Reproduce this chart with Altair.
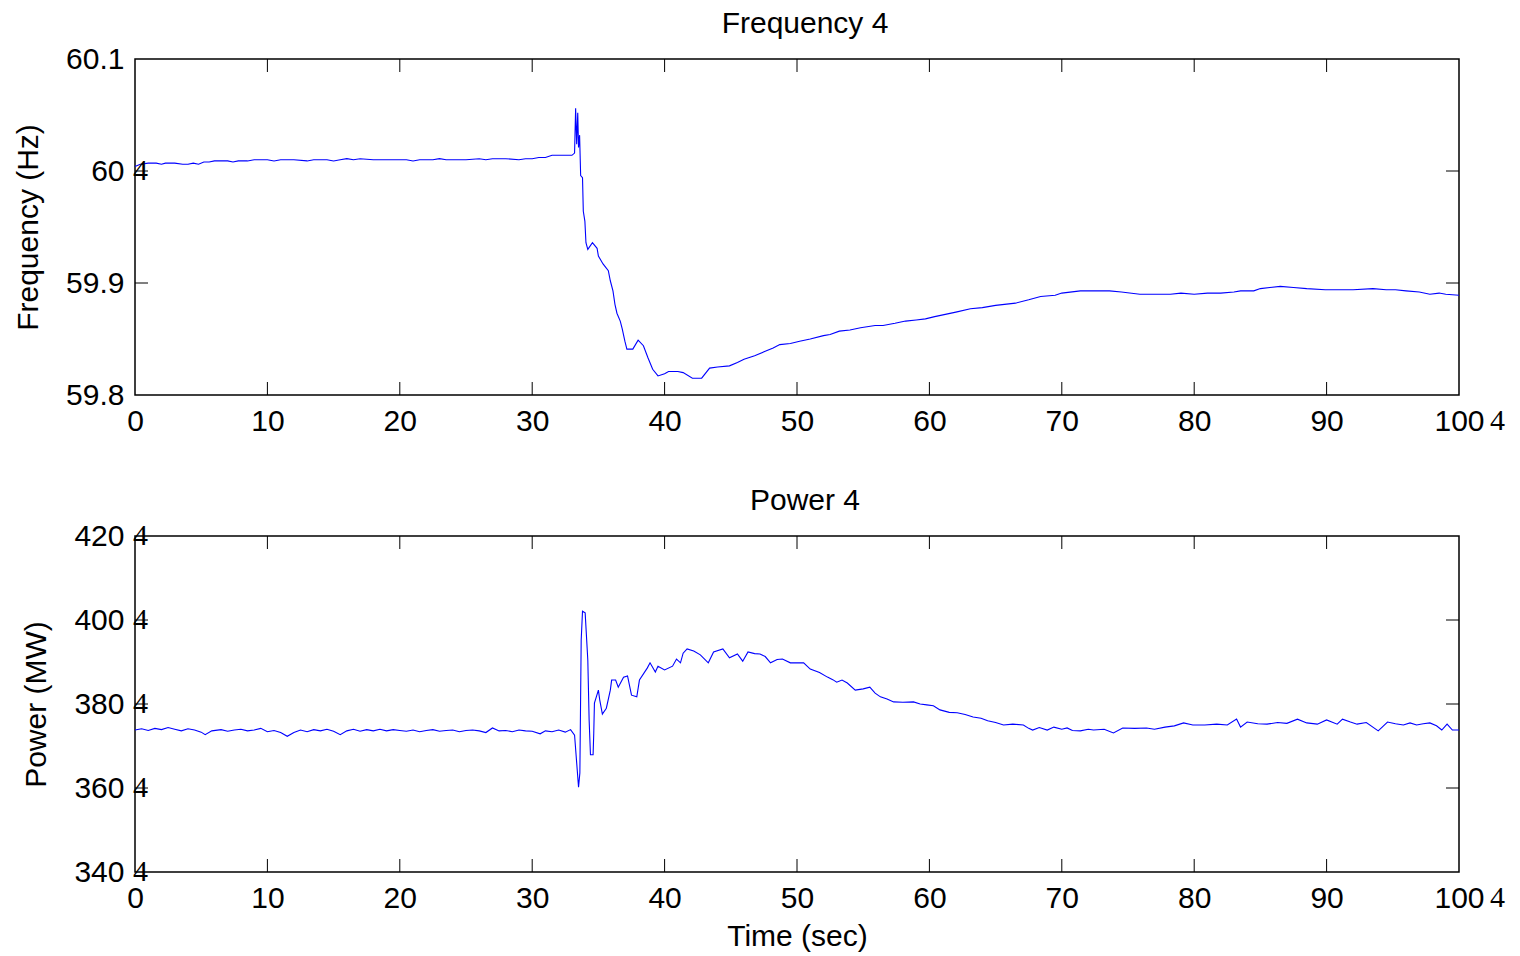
import altair as alt
import pandas as pd

# ---------------- data ----------------
freq_t = [0.0, 0.4, 1.0, 1.6, 2.0, 2.3, 3.0, 3.6, 4.0, 4.4, 4.8, 5.2, 5.6, 6.0, 6.4, 7.0, 7.4, 7.8, 8.5, 9.0,
          10.0, 10.5, 11.0, 12.0, 13.0, 13.5, 14.5, 15.0, 15.5, 16.0, 16.5, 17.0, 18.0, 19.0, 20.0, 20.5, 21.0,
          21.5, 22.5, 23.0, 23.5, 24.5, 25.0, 26.0, 26.5, 27.0, 28.0, 29.0, 29.5, 30.0, 30.5, 31.0, 31.5, 32.5,
          33.0, 33.2, 33.28, 33.36, 33.44, 33.5, 33.58, 33.66, 33.8, 33.86, 33.98, 34.06, 34.2, 34.55, 34.9,
          35.0, 35.35, 35.75, 35.9, 36.1, 36.25, 36.4, 36.65, 36.8, 37.0, 37.15, 37.6, 38.0, 38.4, 38.75, 39.1,
          39.5, 40.0, 40.3, 41.0, 41.4, 42.1, 42.8, 43.4, 44.0, 44.9, 45.5, 46.0, 46.8, 47.6, 48.2, 48.7, 49.5,
          50.2, 51.0, 52.0, 52.5, 53.2, 54.0, 54.8, 55.9, 56.5, 57.4, 58.2, 59.0, 59.7, 60.4, 61.2, 62.0, 63.1,
          64.0, 65.0, 66.5, 67.5, 68.4, 69.5, 70.0, 71.4, 72.5, 73.6, 74.5, 75.9, 77.0, 78.2, 79.0, 80.0, 81.0,
          82.0, 83.0, 83.5, 84.5, 85.0, 86.5, 87.5, 88.5, 89.9, 91.0, 92.0, 93.5, 94.5, 95.2, 96.0, 97.0, 97.8,
          98.5, 99.0, 100.0]
freq_v = [60.004, 60.006, 60.007, 60.007, 60.006, 60.007, 60.007, 60.006, 60.006, 60.007, 60.006, 60.008,
          60.008, 60.009, 60.009, 60.009, 60.008, 60.009, 60.009, 60.010, 60.010, 60.009, 60.010, 60.010,
          60.009, 60.010, 60.010, 60.009, 60.010, 60.011, 60.010, 60.011, 60.010, 60.010, 60.010, 60.010,
          60.009, 60.010, 60.010, 60.011, 60.010, 60.010, 60.010, 60.011, 60.010, 60.011, 60.011, 60.010,
          60.011, 60.011, 60.012, 60.012, 60.014, 60.014, 60.014, 60.016, 60.056, 60.024, 60.052, 60.021,
          60.032, 59.996, 59.994, 59.964, 59.955, 59.936, 59.930, 59.936, 59.931, 59.924, 59.917, 59.911,
          59.902, 59.893, 59.881, 59.873, 59.866, 59.859, 59.848, 59.841, 59.841, 59.849, 59.844, 59.833,
          59.823, 59.817, 59.819, 59.821, 59.821, 59.820, 59.815, 59.815, 59.824, 59.825, 59.826, 59.829,
          59.832, 59.835, 59.839, 59.842, 59.845, 59.846, 59.848, 59.850, 59.853, 59.854, 59.857, 59.858,
          59.860, 59.862, 59.862, 59.864, 59.866, 59.867, 59.868, 59.870, 59.872, 59.874, 59.877, 59.878,
          59.880, 59.882, 59.885, 59.888, 59.889, 59.891, 59.893, 59.893, 59.893, 59.892, 59.890, 59.890,
          59.890, 59.891, 59.890, 59.891, 59.891, 59.892, 59.893, 59.893, 59.895, 59.897, 59.896, 59.895,
          59.894, 59.894, 59.894, 59.895, 59.894, 59.894, 59.893, 59.892, 59.890, 59.891, 59.890, 59.889]

pow_t = [0.0, 0.5, 1.0, 1.5, 2.0, 2.5, 3.0, 3.5, 4.0, 4.5, 5.0, 5.3, 5.8, 6.5, 7.0, 7.5, 8.0, 8.5, 9.0, 9.5,
         10.0, 10.5, 11.0, 11.5, 12.0, 12.5, 13.0, 13.5, 14.0, 14.5, 15.0, 15.5, 16.0, 16.5, 17.0, 17.5, 18.0,
         18.5, 19.0, 19.5, 20.0, 20.5, 21.0, 21.5, 22.0, 22.5, 23.0, 23.5, 24.0, 24.5, 25.0, 25.5, 26.0, 26.5,
         27.0, 27.5, 28.0, 28.5, 29.0, 29.5, 30.0, 30.6, 31.0, 31.5, 32.0, 32.5, 32.9, 33.2, 33.5, 33.6, 33.7,
         33.8, 34.0, 34.2, 34.3, 34.4, 34.6, 34.65, 34.7, 35.0, 35.1, 35.3, 35.6, 35.9, 36.0, 36.3, 36.5, 36.9,
         37.2, 37.5, 37.9, 38.1, 38.7, 38.9, 39.3, 39.5, 40.0, 40.6, 40.9, 41.2, 41.4, 41.7, 42.2, 42.7, 43.3,
         43.7, 44.4, 44.9, 45.5, 45.9, 46.3, 46.8, 47.2, 47.6, 48.0, 48.5, 48.9, 49.5, 50.5, 51.0, 51.7, 52.3,
         52.7, 53.0, 53.4, 53.8, 54.4, 55.0, 55.5, 55.9, 56.3, 56.8, 57.3, 58.0, 58.8, 59.3, 59.8, 60.3, 60.8,
         61.5, 62.1, 62.7, 63.3, 63.9, 64.4, 65.0, 65.6, 66.3, 67.1, 67.5, 67.8, 68.3, 68.9, 69.4, 70.0, 70.4,
         70.8, 71.4, 72.0, 72.4, 73.2, 73.9, 74.6, 75.5, 76.4, 77.0, 77.8, 78.5, 79.2, 79.9, 80.8, 81.7, 82.5,
         83.2, 83.5, 84.0, 84.8, 85.5, 86.3, 87.0, 87.8, 88.5, 89.3, 90.0, 90.8, 91.2, 91.8, 92.3, 93.0, 93.9,
         94.6, 95.2, 95.8, 96.3, 96.8, 97.3, 97.8, 98.3, 98.7, 99.1, 99.5, 100.0]
pow_v = [373.8, 374.1, 373.7, 374.2, 373.9, 374.4, 374.0, 373.6, 374.1, 373.8, 373.3, 372.7, 373.6, 373.9,
         373.5, 373.8, 374.0, 373.6, 373.8, 374.2, 373.4, 373.7, 373.2, 372.3, 373.2, 373.8, 373.4, 373.9,
         373.6, 374.0, 373.5, 372.7, 373.6, 374.0, 373.5, 373.9, 373.6, 374.0, 373.6, 373.9, 373.7, 373.5,
         373.8, 373.4, 373.7, 373.9, 373.5, 373.7, 373.8, 373.4, 373.7, 373.8, 373.6, 373.2, 374.3, 373.6,
         373.7, 373.4, 373.8, 373.6, 373.5, 372.9, 373.6, 373.4, 373.8, 373.3, 373.9, 372.6, 360.2, 363.6,
         395.2, 402.1, 401.7, 390.5, 376.2, 367.9, 367.9, 373.1, 380.2, 383.3, 381.0, 377.6, 379.0, 383.3,
         385.7, 385.7, 384.0, 386.4, 386.7, 382.1, 381.7, 385.7, 388.6, 389.8, 387.6, 389.0, 388.1, 389.0,
         390.7, 389.8, 392.1, 393.1, 392.6, 391.7, 389.8, 392.4, 393.1, 391.0, 391.9, 390.2, 392.4, 392.0,
         391.9, 391.3, 389.8, 390.6, 390.7, 389.8, 389.8, 388.3, 387.5, 386.4, 385.8, 385.2, 385.7, 385.0,
         383.3, 383.6, 384.0, 382.6, 381.7, 381.2, 380.5, 380.4, 380.5, 380.0, 379.8, 379.6, 378.6, 378.0,
         377.9, 377.5, 376.9, 376.6, 376.0, 375.6, 375.0, 375.2, 375.0, 374.2, 373.8, 374.4, 373.8, 374.5,
         374.0, 374.3, 373.7, 373.6, 374.0, 373.8, 374.0, 373.1, 374.3, 374.2, 374.3, 374.0, 374.5, 374.8,
         375.5, 375.0, 375.0, 375.2, 375.0, 376.4, 374.5, 375.7, 375.3, 375.2, 375.6, 375.4, 376.4, 375.5,
         375.2, 376.2, 375.2, 376.4, 375.7, 375.2, 375.6, 373.6, 375.7, 375.3, 375.0, 375.5, 375.0, 375.3,
         375.5, 374.8, 373.8, 375.2, 373.8, 373.8]

x_ticks = [0, 10, 20, 30, 40, 50, 60, 70, 80, 90, 100]
freq_ticks = [59.8, 59.9, 60.0, 60.1]
pow_ticks = [340, 360, 380, 400, 420]
freq_four_ticks = [60.0]          # stray "4" glyphs next to y labels
pow_four_ticks = [340, 360, 380, 400, 420]

W, H = 1324, 336
TL = 13
FONT = "Liberation Sans"
SERIF = "Liberation Serif"

xscale = alt.Scale(domain=[0, 100], nice=False, zero=False)


def panel(t, v, ydom, yticks, fours, ytitle, title, xtitle):
    yscale = alt.Scale(domain=ydom, nice=False, zero=False)
    df = pd.DataFrame({"t": t, "v": v})
    xaxis = alt.Axis(values=x_ticks, format="d", ticks=False, domain=False, grid=False,
                     labelPadding=11, labelFlush=False, labelOverlap=False,
                     title=xtitle if xtitle else "", titlePadding=8)
    yaxis = alt.Axis(values=yticks, format=".4~g", ticks=False, domain=False, grid=False,
                     labelPadding=11, labelFlush=False, labelOverlap=False,
                     title=ytitle, titlePadding=22)

    def X(f):
        return alt.X(f, scale=xscale, axis=xaxis)

    def Y(f):
        return alt.Y(f, scale=yscale, axis=yaxis)

    line = alt.Chart(df).mark_line(color="#0000ff", strokeWidth=1.1).encode(x=X("t:Q"), y=Y("v:Q"))
    inner_x = pd.DataFrame({"t": x_ticks[1:-1]})
    inner_y = pd.DataFrame({"v": yticks[1:-1]})
    tick_top = alt.Chart(inner_x).mark_rule(color="#000", strokeWidth=1).encode(
        x=X("t:Q"), y=alt.value(0), y2=alt.value(TL))
    tick_bot = alt.Chart(inner_x).mark_rule(color="#000", strokeWidth=1).encode(
        x=X("t:Q"), y=alt.value(H), y2=alt.value(H - TL))
    tick_l = alt.Chart(inner_y).mark_rule(color="#000", strokeWidth=1).encode(
        y=Y("v:Q"), x=alt.value(0), x2=alt.value(TL))
    tick_r = alt.Chart(inner_y).mark_rule(color="#000", strokeWidth=1).encode(
        y=Y("v:Q"), x=alt.value(W), x2=alt.value(W - TL))
    four_y = alt.Chart(pd.DataFrame({"t": [0] * len(fours), "v": fours})).mark_text(
        text="4", font=SERIF, fontSize=30, align="left", baseline="middle", dx=-2, color="#000"
    ).encode(x=X("t:Q"), y=Y("v:Q"))
    four_x = alt.Chart(pd.DataFrame({"t": [100], "v": [ydom[0]]})).mark_text(
        text="4", font=SERIF, fontSize=30, align="left", baseline="middle", dx=31, dy=26, color="#000"
    ).encode(x=X("t:Q"), y=Y("v:Q"))
    return alt.layer(line, tick_top, tick_bot, tick_l, tick_r, four_y, four_x).properties(
        width=W, height=H,
        title=alt.TitleParams(title, dx=8, offset=5, fontSize=30, font=FONT, fontWeight="normal"),
    )


top = panel(freq_t, freq_v, [59.8, 60.1], freq_ticks, freq_four_ticks,
            "Frequency (Hz)", "Frequency 4", None)
bottom = panel(pow_t, pow_v, [340, 420], pow_ticks, pow_four_ticks,
               "Power (MW)", "Power 4", "Time (sec)")

chart = alt.vconcat(top, bottom, spacing=48).properties(
    padding={"left": 4, "top": 0, "right": 5, "bottom": 0},
    background="white",
).configure_view(
    stroke="#000", strokeWidth=1.5
).configure_axis(
    labelFont=FONT, labelFontSize=30, labelColor="#000",
    titleFont=FONT, titleFontSize=30, titleFontWeight="normal", titleColor="#000",
).configure_title(
    font=FONT, fontSize=30, fontWeight="normal", color="#000", anchor="middle"
)

chart.save("out.html", embed_options={"renderer": "svg", "actions": False})
